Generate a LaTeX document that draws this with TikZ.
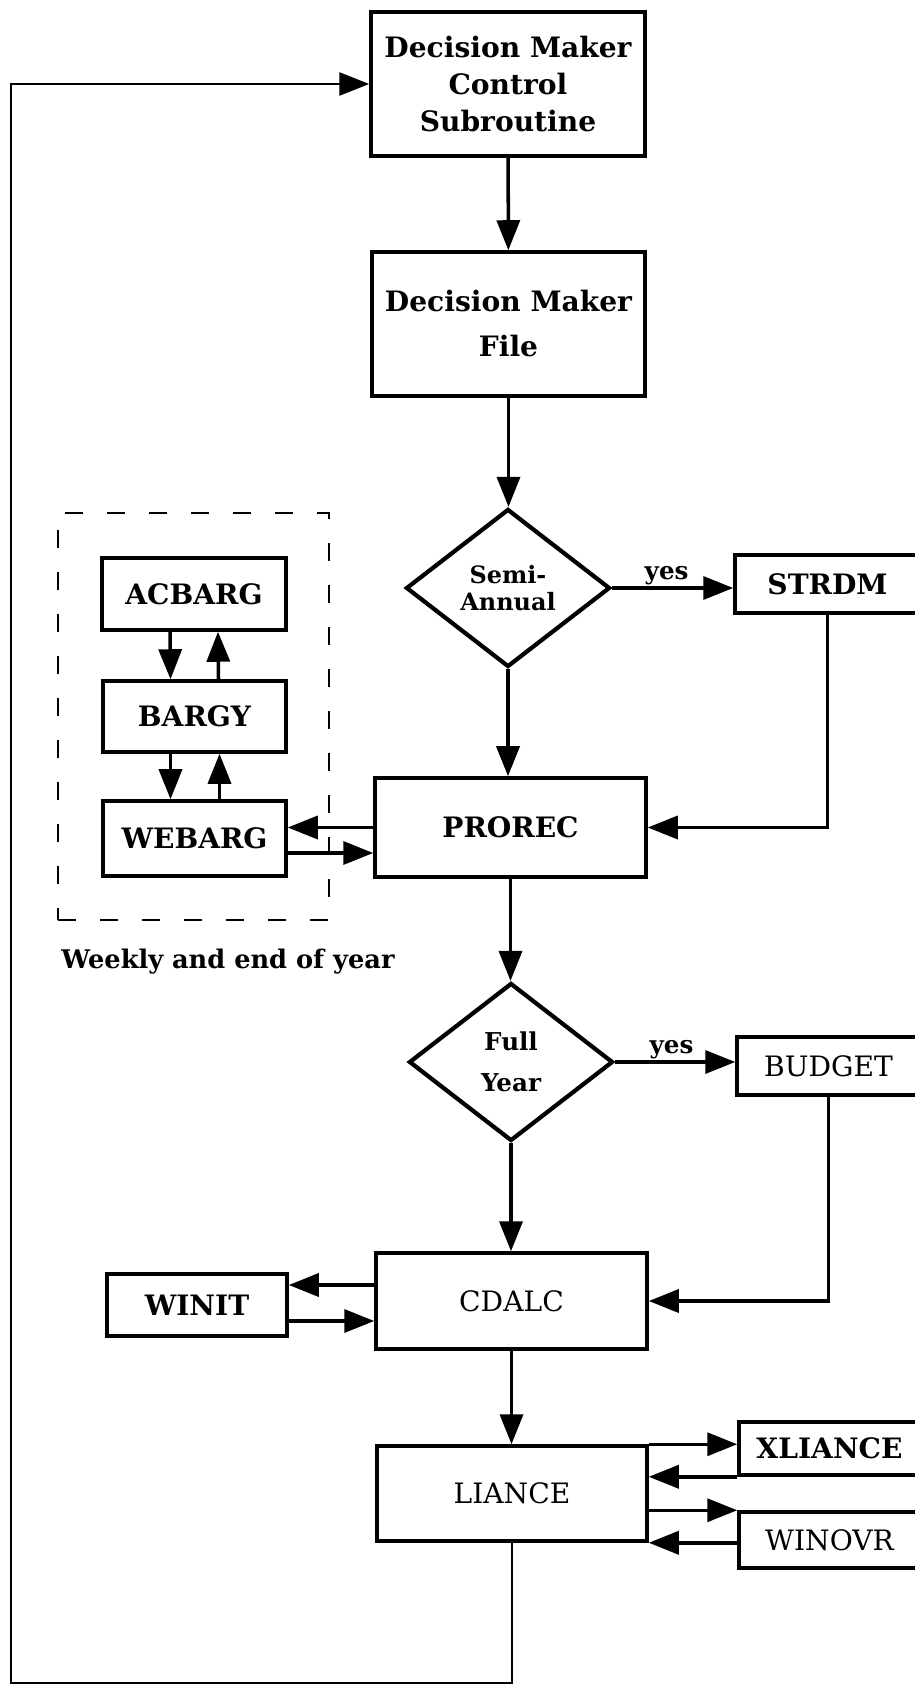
\documentclass[tikz,border=0pt]{standalone}
\usepackage{fontspec}
\setmainfont{DejaVu Serif}
\usetikzlibrary{shapes.geometric,arrows.meta}
\tikzset{
	blk/.style={draw,line width=1pt,inner sep=0pt,align=center,font=\fontsize{8}{10}\selectfont\bfseries},
	lite/.style={blk,font=\fontsize{8}{10}\selectfont},
	dec/.style={draw,diamond,line width=1.2pt,inner sep=0pt,minimum width=20.4mm,minimum height=15.8mm,align=center,font=\fontsize{6.8}{7.6}\selectfont\bfseries},
	grp/.style={draw,line width=0.8pt,dash pattern=on 1.8mm off 2.4mm,minimum width=27.1mm,minimum height=40.7mm},
	yes/.style={above,inner sep=0.4pt,font=\fontsize{7}{8}\selectfont\bfseries},
	arr/.style={line width=1pt,-{Triangle[length=3mm,width=2.3mm]}},
}

\begin{document}
\begin{tikzpicture}[x=0.1mm,y=-0.1mm]
	\useasboundingbox (0,0) rectangle (915,1685);
	\clip (0,0) rectangle (915,1685);

	\node[blk,minimum width=27.4mm,minimum height=14.4mm] (ctrl) at (508,84) {Decision Maker\\[0.6pt]Control\\[0.6pt]Subroutine};
	\node[blk,minimum width=27.3mm,minimum height=14.4mm] (file) at (508.5,324) {Decision Maker\\[2.8pt]File};
	\node[dec] (semi) at (508,588) {Semi-\\Annual};
	\node[blk,minimum width=18.5mm,minimum height=5.8mm] (strdm) at (827.5,584) {STRDM};
	\node[blk,minimum width=27.1mm,minimum height=9.9mm] (prorec) at (510.5,827.5) {PROREC};
	\node[grp] (grp) at (193.5,716.5) {};
	\node[blk,minimum width=18.4mm,minimum height=7.2mm] (acbarg) at (194,594) {ACBARG};
	\node[blk,minimum width=18.3mm,minimum height=7.1mm] (bargy) at (194.5,716.5) {BARGY};
	\node[blk,minimum width=18.3mm,minimum height=7.5mm] (webarg) at (194.5,838.5) {WEBARG};
	\node[font=\fontsize{7.3}{9}\selectfont\bfseries,inner sep=0pt] (wk) at (228,962) {Weekly and end of year};
	\node[dec,font=\fontsize{7}{8.5}\selectfont\bfseries] (full) at (511,1062) {Full\\[3pt]Year};
	\node[lite,minimum width=18.3mm,minimum height=5.8mm] (budget) at (828.5,1066) {BUDGET};
	\node[lite,minimum width=27.1mm,minimum height=9.6mm] (cdalc) at (511.5,1301) {CDALC};
	\node[blk,minimum width=18mm,minimum height=6.2mm] (winit) at (197,1305) {WINIT};
	\node[lite,minimum width=27mm,minimum height=9.5mm] (liance) at (512,1493.5) {LIANCE};
	\node[blk,minimum width=18.1mm,minimum height=5.3mm] (xliance) at (829.5,1448.5) {XLIANCE};
	\node[lite,minimum width=18.1mm,minimum height=5.6mm] (winovr) at (829.5,1540) {WINOVR};

	\draw[arr] (ctrl) -- (file);
	\draw[arr] (file) -- (file |- semi.north);
	\draw[arr] (semi.east) -- node[yes,pos=0.45] (yes1) {yes} (semi.east -| strdm.west);
	\draw[arr] (semi.south) -- (semi.south |- prorec.north);
	\draw[arr] (strdm.south) |- (prorec.east);
	\draw[arr] (prorec.west) -- (prorec.west -| webarg.east);
	\coordinate (wbo) at ([yshift=-1.45mm]webarg.east);
	\draw[arr] (wbo) -- (wbo -| prorec.west);
	\draw[arr] ([xshift=-2.4mm]acbarg.south) -- ([xshift=-2.4mm]bargy.north);
	\draw[arr] ([xshift=2.4mm]bargy.north) -- ([xshift=2.4mm]acbarg.south);
	\draw[arr] ([xshift=-2.4mm]bargy.south) -- ([xshift=-2.4mm]webarg.north);
	\draw[arr] ([xshift=2.5mm]webarg.north) -- ([xshift=2.5mm]bargy.south);
	\draw[arr] (prorec.south) -- (prorec.south |- full.north);
	\draw[arr] (full.east) -- node[yes,pos=0.47] (yes2) {yes} (full.east -| budget.west);
	\draw[arr] (full.south) -- (full.south |- cdalc.north);
	\draw[arr] (budget.south) |- (cdalc.east);
	\coordinate (wia) at ([yshift=2mm]winit.east);
	\coordinate (wib) at ([yshift=-1.6mm]winit.east);
	\draw[arr] (wia -| cdalc.west) -- (wia);
	\draw[arr] (wib) -- (wib -| cdalc.west);
	\draw[arr] (cdalc.south) -- (cdalc.south |- liance.north);
	\draw[arr] (liance.north east) -- (liance.north east -| xliance.west);
	\draw[arr] (xliance.south west) -- (xliance.south west -| liance.east);
	\draw[arr] (winovr.north west -| liance.east) -- (winovr.north west);
	\draw[arr] (liance.south east -| winovr.west) -- (liance.south east);
	\coordinate (lp) at (11,1683);
	\draw[arr,line width=0.8pt] (liance.south) |- (lp) |- (ctrl.west);
\end{tikzpicture}
\end{document}
